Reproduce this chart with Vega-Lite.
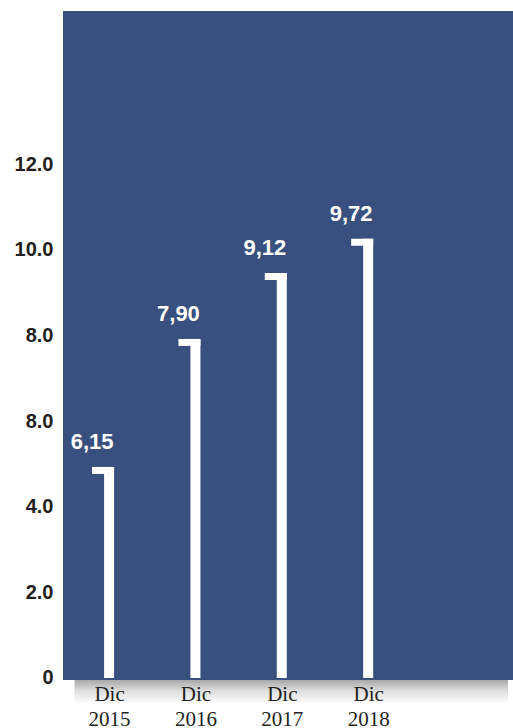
{
  "$schema": "https://vega.github.io/schema/vega-lite/v6.json",
  "autosize": "none",
  "padding": {"left": 63, "top": 11, "right": 0, "bottom": 48},
  "width": 450,
  "height": 669,
  "background": "white",
  "view": {"fill": "#39507f", "stroke": null},
  "datasets": {
    "bars": [
      {"year": 2015, "value": 4.93, "label": "6,15"},
      {"year": 2016, "value": 7.92, "label": "7,90"},
      {"year": 2017, "value": 9.46, "label": "9,12"},
      {"year": 2018, "value": 10.26, "label": "9,72"}
    ],
    "shadow": [
      {"year": 2014.6, "year2": 2019.619, "value": -0.047, "value2": -0.6}
    ]
  },
  "layer": [
    {
      "data": {"name": "shadow"},
      "mark": {
        "type": "rect",
        "clip": false,
        "fill": {
          "gradient": "linear",
          "x1": 0, "y1": 0, "x2": 0, "y2": 1,
          "stops": [
            {"offset": 0, "color": "#a9a9a9"},
            {"offset": 0.45, "color": "#dcdcdc"},
            {"offset": 1, "color": "#ffffff"}
          ]
        }
      },
      "encoding": {
        "x": {
          "field": "year",
          "type": "quantitative",
          "scale": {"domain": [2014.5245, 2019.619], "nice": false, "zero": false},
          "axis": {
            "values": [2015, 2016, 2017, 2018],
            "labelExpr": "['Dic', format(datum.value, 'd')]",
            "labelFont": "Liberation Serif",
            "labelFontSize": 21,
            "labelColor": "#231f20",
            "labelBaseline": "top",
            "labelLineHeight": 25,
            "labelPadding": 3,
            "ticks": false,
            "domain": false,
            "grid": false,
            "title": null,
            "zindex": 2
          }
        },
        "x2": {"field": "year2"},
        "y": {
          "field": "value",
          "type": "quantitative",
          "scale": {"domain": [-0.047, 15.58], "nice": false, "zero": false},
          "axis": {
            "values": [0, 2, 4, 6, 8, 10, 12],
            "labelExpr": "datum.value == 0 ? '0' : (datum.value == 6 ? '8.0' : format(datum.value, '.1f'))",
            "labelFont": "Liberation Sans",
            "labelFontWeight": "bold",
            "labelFontSize": 20,
            "labelColor": "#231f20",
            "labelPadding": 10,
            "ticks": false,
            "domain": false,
            "grid": false,
            "title": null,
            "zindex": 2
          }
        },
        "y2": {"field": "value2"}
      }
    },
    {
      "data": {"name": "bars"},
      "encoding": {
        "x": {
          "field": "year",
          "type": "quantitative",
          "scale": {"domain": [2014.5245, 2019.619], "nice": false, "zero": false},
          "axis": {
            "values": [2015, 2016, 2017, 2018],
            "labelExpr": "['Dic', format(datum.value, 'd')]",
            "labelFont": "Liberation Serif",
            "labelFontSize": 21,
            "labelColor": "#231f20",
            "labelBaseline": "top",
            "labelLineHeight": 25,
            "labelPadding": 3,
            "ticks": false,
            "domain": false,
            "grid": false,
            "title": null,
            "zindex": 2
          }
        },
        "y": {
          "field": "value",
          "type": "quantitative",
          "scale": {"domain": [-0.047, 15.58], "nice": false, "zero": false},
          "axis": {
            "values": [0, 2, 4, 6, 8, 10, 12],
            "labelExpr": "datum.value == 0 ? '0' : (datum.value == 6 ? '8.0' : format(datum.value, '.1f'))",
            "labelFont": "Liberation Sans",
            "labelFontWeight": "bold",
            "labelFontSize": 20,
            "labelColor": "#231f20",
            "labelPadding": 10,
            "ticks": false,
            "domain": false,
            "grid": false,
            "title": null,
            "zindex": 2
          }
        }
      },
      "layer": [
        {
          "mark": {"type": "bar", "width": 10, "color": "white"},
          "encoding": {"y2": {"datum": 0}}
        },
        {
          "mark": {"type": "tick", "orient": "horizontal", "size": 22, "thickness": 7, "xOffset": -6, "yOffset": 3.5, "color": "white", "opacity": 1}
        },
        {
          "mark": {"type": "text", "dx": -17, "dy": -25, "align": "center", "baseline": "middle", "font": "Liberation Sans", "fontWeight": "bold", "fontSize": 22, "color": "white"},
          "encoding": {"text": {"field": "label"}}
        }
      ]
    }
  ]
}
